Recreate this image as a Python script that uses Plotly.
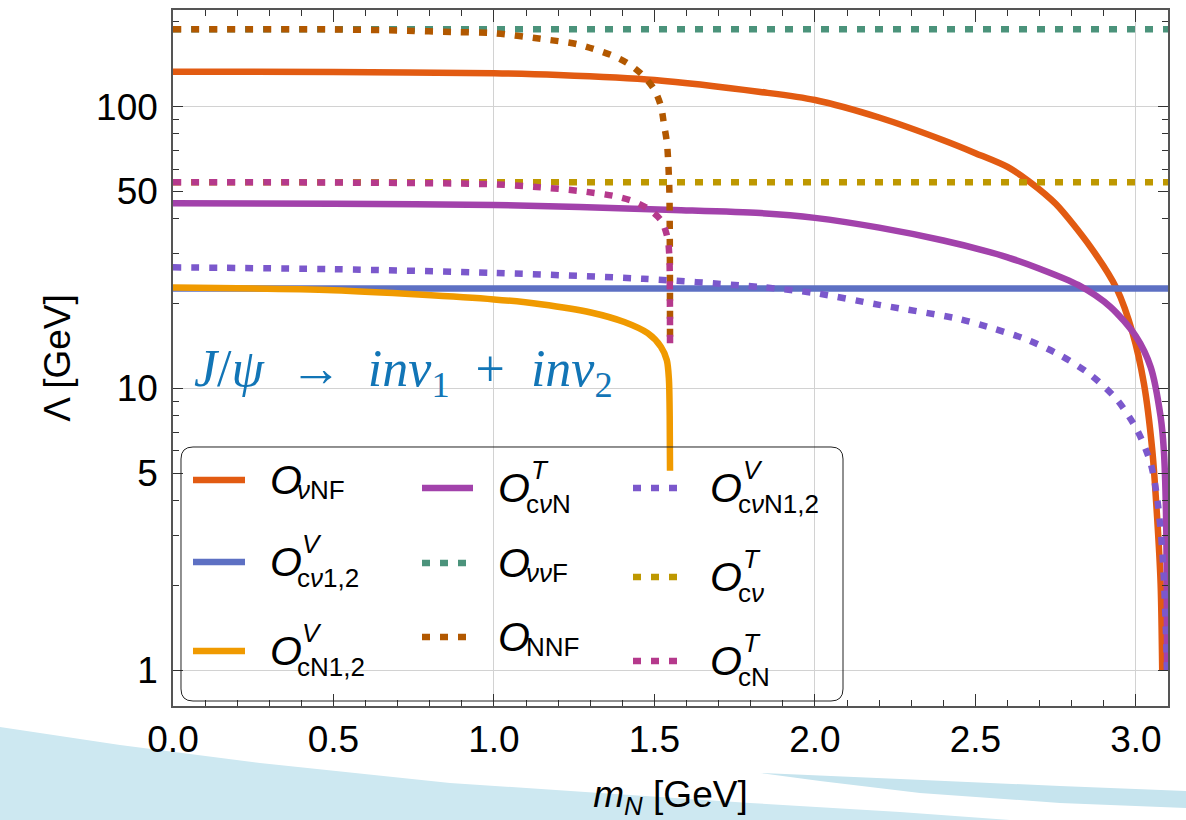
import plotly.graph_objects as go

# ---------------- data ----------------
x_vNF = [0, 0.5, 1.0, 1.2, 1.5, 1.83, 2.0, 2.2, 2.4, 2.5, 2.6, 2.67, 2.75, 2.86, 2.94, 2.99, 3.025, 3.051, 3.066, 3.077, 3.082]
y_vNF = [133.1, 132.7, 131.4, 129.6, 124.4, 112.8, 105.6, 91.5, 76.0, 68.4, 61.1, 54.0, 45.2, 31.6, 22.6, 15.7, 10.4, 6.04, 3.5, 2.03, 1.0]

x_cv12 = [0, 3.1]
y_cv12 = [22.65, 22.65]

x_cN12 = [0, 0.5, 1.0, 1.146, 1.302, 1.406, 1.479, 1.52, 1.5385, 1.545, 1.5475, 1.5485]
y_cN12 = [22.8, 22.3, 20.7, 19.9, 18.6, 17.2, 15.7, 14.06, 12.6, 10.8, 8.0, 5.1]

x_cvN = [0, 0.5, 1.0, 1.56, 1.83, 2.0, 2.2, 2.4, 2.53, 2.6, 2.7, 2.82, 2.92, 3.0, 3.046, 3.077, 3.087, 3.094, 3.097]
y_cvN = [45.4, 45.2, 44.8, 43.0, 41.9, 40.3, 37.2, 33.5, 30.8, 29.2, 26.6, 23.3, 19.5, 15.3, 11.9, 7.93, 6.04, 3.5, 1.0]

x_vvF = [0, 3.1]
y_vvF = [188.3, 188.3]

x_NNF = [0, 0.5, 0.73, 0.88, 1.0, 1.146, 1.26, 1.364, 1.416, 1.4625, 1.499, 1.520, 1.530, 1.5385, 1.5426, 1.5465, 1.548, 1.5485]
y_NNF = [188.3, 188.0, 186.0, 184.0, 182.2, 174.0, 166.5, 152.6, 142.6, 129.6, 115.3, 100.6, 86.1, 75.1, 64.7, 50.0, 30.0, 14.45]

x_cvN12 = [0, 0.5, 1.0, 1.465, 1.83, 2.0, 2.2, 2.443, 2.557, 2.661, 2.765, 2.858, 2.942, 3.004, 3.046, 3.067, 3.082, 3.092, 3.097]
y_cvN12 = [26.9, 26.5, 25.7, 24.5, 22.9, 21.8, 19.8, 17.7, 16.3, 14.9, 13.1, 11.2, 9.09, 7.11, 5.42, 4.01, 2.67, 1.55, 1.0]

x_cv = [0, 3.1]
y_cv = [53.9, 53.9]

x_cN = [0, 0.5, 1.0, 1.146, 1.26, 1.374, 1.431, 1.483, 1.522, 1.541, 1.5465, 1.548, 1.5485]
y_cN = [53.9, 53.8, 53.0, 51.7, 50.3, 48.2, 46.3, 43.2, 39.3, 34.1, 29.3, 22.0, 14.45]

x_ticks = [0.0, 0.5, 1.0, 1.5, 2.0, 2.5, 3.0]
x_ticktext = ["0.0", "0.5", "1.0", "1.5", "2.0", "2.5", "3.0"]
y_ticks = [1, 5, 10, 50, 100]
y_ticktext = ["1", "5", "10", "50", "100"]
y_minor = [2, 3, 4, 6, 7, 8, 9, 20, 30, 40, 60, 70, 80, 90, 200]

# ---------------- styles ----------------
C_vNF, C_cv12, C_cN12 = "#e25b12", "#5d70c3", "#f09a00"
C_cvN, C_vvF, C_NNF = "#a242ab", "#4b937b", "#b25800"
C_cvN12, C_cv, C_cN = "#7b58cc", "#be9800", "#b5398c"
DOT = "8px,10px"
LW = 6.5

series = [
    (x_vNF, y_vNF, C_vNF, "solid"),
    (x_cv12, y_cv12, C_cv12, "solid"),
    (x_cN12, y_cN12, C_cN12, "solid"),
    (x_cvN, y_cvN, C_cvN, "solid"),
    (x_vvF, y_vvF, C_vvF, DOT),
    (x_NNF, y_NNF, C_NNF, DOT),
    (x_cvN12, y_cvN12, C_cvN12, DOT),
    (x_cv, y_cv, C_cv, DOT),
    (x_cN, y_cN, C_cN, DOT),
]

W, H = 1186, 820
L, R, T, B = 173, 1168, 10, 706
XR = [0, 3.1]
YR = [-0.127, 2.343]

def px(v):
    return (v - L) / (R - L)

def py(v):
    return (B - v) / (B - T)

fig = go.Figure()
for xs, ys, c, d in series:
    fig.add_trace(go.Scatter(x=xs, y=ys, mode="lines",
                             line=dict(color=c, width=LW, dash=d, shape="spline", smoothing=0.8),
                             showlegend=False, hoverinfo="skip"))
# dummy trace to carry the grid-only axes
fig.add_trace(go.Scatter(x=[0.5], y=[2], xaxis="x2", yaxis="y2", mode="markers",
                         marker=dict(opacity=0), showlegend=False, hoverinfo="skip"))

FONT = "Liberation Sans, Arial, sans-serif"
tickfont = dict(family=FONT, size=37, color="black")

fig.update_layout(
    width=W, height=H,
    margin=dict(l=L, r=W - R, t=T, b=H - B, autoexpand=False),
    paper_bgcolor="white", plot_bgcolor="white",
    xaxis=dict(range=XR, tickmode="array", tickvals=x_ticks, ticktext=x_ticktext,
               ticks="inside", ticklen=12, tickwidth=1, tickcolor="#333",
               minor=dict(tickmode="array",
                          tickvals=[i / 10 for i in range(1, 31) if i % 5 != 0],
                          ticks="inside", ticklen=6, tickcolor="#333", tickwidth=1, showgrid=False),
               showgrid=False, zeroline=False, showline=True, linecolor="#555", linewidth=1.5,
               mirror="ticks", tickfont=tickfont, ticklabelstandoff=0, automargin=False,
               title=dict(text="<i>m</i><sub><i>N</i></sub> [GeV]", font=dict(family=FONT, size=37, color="black"),
                          standoff=26)),
    yaxis=dict(type="log", range=YR, tickmode="array", tickvals=y_ticks, ticktext=y_ticktext,
               ticks="inside", ticklen=10, tickwidth=1, tickcolor="#333",
               minor=dict(tickmode="array", tickvals=y_minor, ticks="inside", ticklen=6,
                          tickcolor="#333", tickwidth=1, showgrid=False),
               showgrid=False, zeroline=False, showline=True, linecolor="#555", linewidth=1.5,
               mirror="ticks", tickfont=tickfont, ticklabelstandoff=6, automargin=False,
               title=dict(text="Λ [GeV]", font=dict(family=FONT, size=37, color="black"),
                          standoff=14)),
    xaxis2=dict(range=XR, overlaying="x", anchor="y", tickmode="array", tickvals=[1, 2, 3],
                showgrid=True, gridcolor="#d2d2d2", gridwidth=1.2, showticklabels=False,
                ticks="", showline=False, zeroline=False),
    yaxis2=dict(type="log", range=YR, overlaying="y", anchor="x", tickmode="array",
                tickvals=[1, 10, 100], showgrid=True, gridcolor="#d2d2d2", gridwidth=1.2,
                showticklabels=False, ticks="", showline=False, zeroline=False),
)

shapes = []
# background swooshes
def poly(pts):
    return "M " + " L ".join(f"{px(a):.5f},{py(b):.5f}" for a, b in pts) + " Z"

shapes.append(dict(type="path", xref="paper", yref="paper", layer="below",
                   path=poly([(0, 727), (120, 745), (260, 763), (450, 783), (600, 793), (750, 803),
                              (900, 812), (1010, 820), (0, 820)]),
                   fillcolor="#cde8f1", line=dict(width=0)))
shapes.append(dict(type="path", xref="paper", yref="paper", layer="below",
                   path=poly([(760, 773), (900, 779), (1060, 786), (1186, 791), (1186, 808),
                              (1060, 803), (920, 793), (820, 781)]),
                   fillcolor="#c6e4ee", line=dict(width=0)))

# legend frame (rounded)
x0, x1, y0, y1, r = 181, 843, 447, 701, 12
def P(a, b):
    return f"{px(a):.5f},{py(b):.5f}"
frame = (f"M {P(x0 + r, y0)} L {P(x1 - r, y0)} Q {P(x1, y0)} {P(x1, y0 + r)} "
         f"L {P(x1, y1 - r)} Q {P(x1, y1)} {P(x1 - r, y1)} L {P(x0 + r, y1)} "
         f"Q {P(x0, y1)} {P(x0, y1 - r)} L {P(x0, y0 + r)} Q {P(x0, y0)} {P(x0 + r, y0)}")
shapes.append(dict(type="path", xref="paper", yref="paper", path=frame,
                   line=dict(color="#222", width=1)))

# legend entries
cols = [
    dict(lx=(193, 245), ox=267.6, sx=295),
    dict(lx=(422, 473), ox=496, sx=524),
    dict(lx=(633, 678), ox=708, sx=736),
]
entries = [
    (0, 480, C_vNF, "solid", None, "<i>ν</i>NF"),
    (0, 562, C_cv12, "solid", "<i>V</i>", "c<i>ν</i>1,2"),
    (0, 651, C_cN12, "solid", "<i>V</i>", "cN1,2"),
    (1, 488, C_cvN, "solid", "<i>T</i>", "c<i>ν</i>N"),
    (1, 563, C_vvF, DOT, None, "<i>νν</i>F"),
    (1, 637, C_NNF, DOT, None, "NNF"),
    (2, 488, C_cvN12, DOT, "<i>V</i>", "c<i>ν</i>N1,2"),
    (2, 577, C_cv, DOT, "<i>T</i>", "c<i>ν</i>"),
    (2, 661, C_cN, DOT, "<i>T</i>", "cN"),
]
ann = []
SUBF = dict(family=FONT, size=26, color="black")
for ci, yl, c, d, sup, sub in entries:
    col = cols[ci]
    shapes.append(dict(type="line", xref="paper", yref="paper",
                       x0=px(col["lx"][0]), x1=px(col["lx"][1]), y0=py(yl), y1=py(yl),
                       line=dict(color=c, width=6.5, dash=d)))
    ann.append(dict(xref="paper", yref="paper", x=px(col["ox"]), y=py(yl), xanchor="left",
                    yanchor="middle", text="<i>O</i>", showarrow=False,
                    font=dict(family=FONT, size=41, color="black")))
    if sup:
        ann.append(dict(xref="paper", yref="paper", x=px(col["sx"] + 5), y=py(yl - 18),
                        xanchor="left", yanchor="middle", text=sup, showarrow=False, font=SUBF))
        ann.append(dict(xref="paper", yref="paper", x=px(col["sx"]), y=py(yl + 16),
                        xanchor="left", yanchor="middle", text=sub, showarrow=False, font=SUBF))
    else:
        ann.append(dict(xref="paper", yref="paper", x=px(col["sx"]), y=py(yl + 10),
                        xanchor="left", yanchor="middle", text=sub, showarrow=False, font=SUBF))

# process label
ann.append(dict(xref="paper", yref="paper", x=px(192), y=py(372), xanchor="left", yanchor="middle",
                text="<i>J</i>/<i>ψ</i>\u00a0\u00a0→\u00a0\u00a0<i>inv</i><sub>1</sub>\u00a0\u00a0+\u00a0\u00a0<i>inv</i><sub>2</sub>",
                showarrow=False,
                font=dict(family="Liberation Serif, Times New Roman, serif", size=52, color="#1275b6")))

fig.update_layout(shapes=shapes, annotations=ann)
fig.write_html("out.html")
